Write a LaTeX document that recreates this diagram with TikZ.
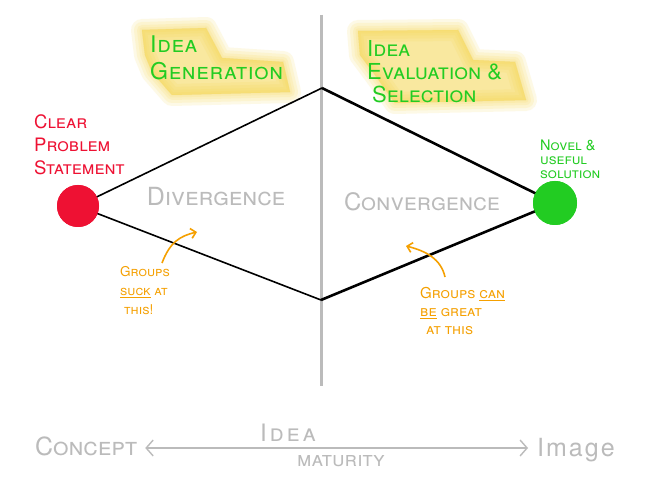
\documentclass[tikz,border=0pt]{standalone}
\usepackage{fontspec}
\setmainfont{TeX Gyre Heros}
\usetikzlibrary{arrows.meta}
\definecolor{hlgreen}{HTML}{22CC22}
\definecolor{hlred}{HTML}{EE1133}
\definecolor{hlorange}{HTML}{F5A000}
\definecolor{hlgray}{HTML}{BBBBBB}
\definecolor{hlyellow}{HTML}{F6D443}
\tikzset{
  hand/.style={font=\scshape, inner sep=0pt, align=left},
  greentxt/.style={hand, text=hlgreen},
  redtxt/.style={hand, text=hlred},
  orangetxt/.style={hand, text=hlorange},
  graytxt/.style={hand, text=hlgray},
  dot/.style={circle, minimum size=42pt, inner sep=0pt},
  thinedge/.style={black, line width=1.6pt},
  thickedge/.style={black, line width=2.6pt},
  note/.style={hlorange, line width=1.6pt, -{Straight Barb[length=5pt,width=10pt]}},
}
\newcommand{\glowpath}[1]{%
  \foreach \w in {22,16,10,5,1} {
    \filldraw[hlyellow, opacity=0.13, line width=\w pt, line join=round] #1;
  }%
}
\begin{document}
\begin{tikzpicture}[x=1pt,y=-1pt]
\useasboundingbox (0,0) rectangle (658,486);
\fill[white] (0,0) rectangle (658,486);
% highlights
\glowpath{(142,30) -- (206,28) -- (222,58) -- (283,62) -- (290,92) -- (172,95) -- (152,72) -- (145,55) -- cycle}
\glowpath{(358,31) -- (458,30) -- (473,60) -- (515,62) -- (526,100) -- (395,103) -- (375,75) -- (360,55) -- cycle}
% vertical divider
\coordinate (vtop) at (321,15);
\coordinate (vbot) at (321,386);
\draw[hlgray, line width=3pt] (vtop) -- (vbot);
% diamond
\coordinate (top) at (322,88);
\coordinate (bot) at (321,300);
\node[dot, fill=hlred] (start) at (78,206) {};
\node[dot, fill=hlgreen, minimum size=44pt] (goal) at (555,203) {};
\draw[thinedge] (start.center) -- (top);
\draw[thinedge] (start.center) -- (bot);
\draw[thickedge] (top) -- (goal.center);
\draw[thickedge] (bot) -- (goal.center);
\node[dot, fill=hlred] at (start) {};
\node[dot, fill=hlgreen, minimum size=44pt] at (goal) {};
% labels
\node[greentxt, font=\fontsize{23}{27}\selectfont\scshape\addfontfeature{LetterSpace=3}, anchor=north west] (gen) at (150,36) {Idea\\Generation};
\node[greentxt, font=\fontsize{22}{23}\selectfont\scshape, anchor=north west] (eval) at (367,40) {Idea\\Evaluation \&\\\hspace*{5pt}Selection};
\node[redtxt, font=\fontsize{18.5}{23}\selectfont\scshape, anchor=north west] (clear) at (34,114) {Clear\\Problem\\Statement};
\node[greentxt, font=\fontsize{14.5}{14}\selectfont\scshape, anchor=north west] (novel) at (540,140) {Novel \&\\useful\\solution};
\node[graytxt, font=\fontsize{25}{26}\selectfont\scshape] (div) at (216,197) {Divergence};
\node[graytxt, font=\fontsize{24}{26}\selectfont\scshape] (conv) at (422,202) {Convergence};
% orange notes
\node[orangetxt, font=\fontsize{13.5}{19}\selectfont\scshape, anchor=north west] (suck) at (120,266) {Groups\\\underline{suck} at\\\hspace*{4pt}this!};
\node[orangetxt, font=\fontsize{15}{18}\selectfont\scshape, anchor=north west] (can) at (420,287) {Groups \underline{can}\\\underline{be} great\\\hspace*{6pt}at this};
\coordinate (sucktail) at (162,263);
\coordinate (suckhead) at (197,232);
\draw[note] (sucktail) .. controls (170,242) and (180,236) .. (suckhead);
\coordinate (cantail) at (445,277);
\coordinate (canhead) at (406,246);
\draw[note] (cantail) .. controls (441,259) and (426,251) .. (canhead);
% maturity axis
\node[graytxt, font=\fontsize{25}{26}\selectfont\scshape, anchor=west] (concept) at (35,446) {Concept};
\node[graytxt, font=\fontsize{25}{26}\selectfont\addfontfeature{LetterSpace=8}, anchor=west] (image) at (537,450) {Image};
\draw[hlgray, line width=1.4pt, {Straight Barb[length=7pt,width=16pt]}-{Straight Barb[length=7pt,width=16pt]}] ([xshift=8pt]concept.east |- 0,448) -- ([xshift=-9pt]image.west |- 0,448);
\node[graytxt, font=\fontsize{24}{26}\selectfont\scshape\addfontfeature{LetterSpace=12}] (idea) at (288,433) {Idea};
\node[graytxt, font=\fontsize{21}{22}\selectfont\scshape] (mat) at (341,461) {maturity};
\end{tikzpicture}
\end{document}
